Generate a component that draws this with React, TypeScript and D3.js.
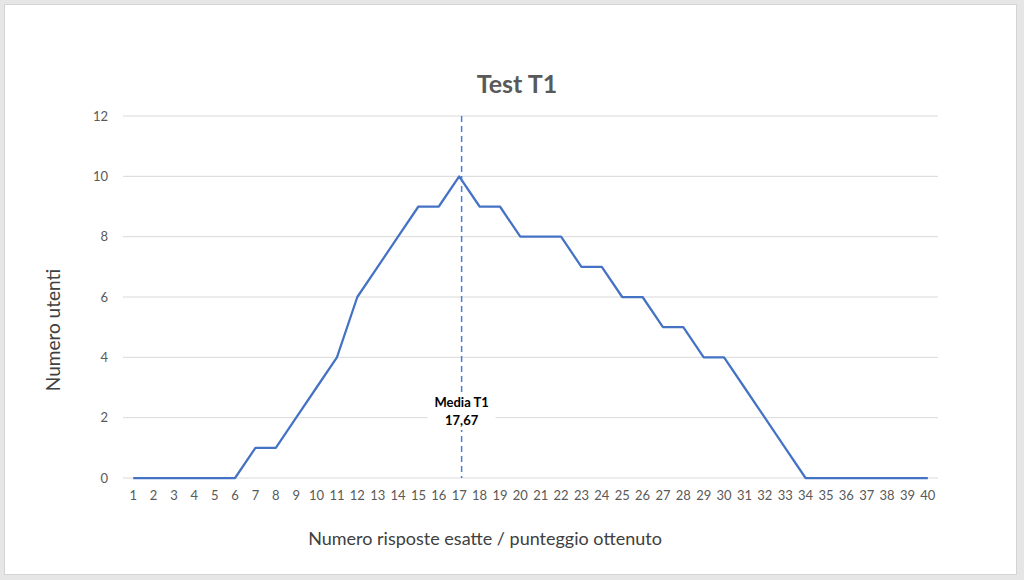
import React from "react";
import * as d3 from "d3";

const categories: number[] = Array.from({ length: 40 }, (_, i) => i + 1);
const users: number[] = [
  0, 0, 0, 0, 0, 0, 1, 1, 2, 3,
  4, 6, 7, 8, 9, 9, 10, 9, 9, 8,
  8, 8, 7, 7, 6, 6, 5, 5, 4, 4,
  3, 2, 1, 0, 0, 0, 0, 0, 0, 0,
];
const yTicks: number[] = [0, 2, 4, 6, 8, 10, 12];
const meanLabel: string[] = ["Media T1", "17,67"];
const meanLinePos = 17.12; // position on the category axis where the dashed line is drawn

const W = 1024;
const H = 580;
const margin = { left: 123, right: 86, top: 116, bottom: 102 };
const font = "Lato, 'Open Sans', sans-serif";

export default function App() {
  React.useEffect(() => {
    document.body.style.margin = "0";
  }, []);
  const x = d3
    .scaleBand<number>()
    .domain(categories)
    .range([margin.left, W - margin.right]);
  const xc = (v: number) => (x(v) as number) + x.bandwidth() / 2;
  const xLin = d3
    .scaleLinear()
    .domain([1, 40])
    .range([xc(1), xc(40)]);
  const y = d3.scaleLinear().domain([0, 12]).range([H - margin.bottom, margin.top]);
  const line = d3
    .line<number>()
    .x((_, i) => xc(categories[i]))
    .y((d) => y(d));
  const mx = xLin(meanLinePos);
  return (
    <svg width={W} height={H} style={{ display: "block", fontFamily: font }}>
      <rect x={0} y={0} width={W} height={H} fill="#e6e6e6" />
      <rect x={4.5} y={4.5} width={1012} height={570} fill="#ffffff" stroke="#d4d4d4" />
      <text x={517} y={93} textAnchor="middle" fontSize={25} fontWeight="bold" fill="#595959">
        Test T1
      </text>
      {yTicks.map((t) => (
        <g key={t}>
          <line x1={margin.left} x2={W - margin.right} y1={y(t)} y2={y(t)} stroke="#d9d9d9" strokeWidth={1} />
          <text x={108} y={y(t)} dy="0.35em" textAnchor="end" fontSize={13} fill="#595959">
            {t}
          </text>
        </g>
      ))}
      {categories.map((c) => (
        <text key={c} x={xc(c)} y={500} textAnchor="middle" fontSize={13} fill="#595959">
          {c}
        </text>
      ))}
      <path d={line(users) || ""} fill="none" stroke="#4472c4" strokeWidth={2.25} strokeLinejoin="round" />
      <line x1={mx} x2={mx} y1={margin.top} y2={y(0)} stroke="#4a7fd6" strokeWidth={1.5} strokeDasharray="6,4" />
      <rect x={mx - 34} y={392} width={68} height={38} fill="#ffffff" />
      <text x={mx} y={407} textAnchor="middle" fontSize={13} fontWeight="bold" fill="#000">
        {meanLabel[0]}
      </text>
      <text x={mx} y={425} textAnchor="middle" fontSize={13} fontWeight="bold" fill="#000">
        {meanLabel[1]}
      </text>
      <text x={485} y={545} textAnchor="middle" fontSize={18} fill="#404040">
        Numero risposte esatte / punteggio ottenuto
      </text>
      <text transform={`translate(60,${330}) rotate(-90)`} textAnchor="middle" fontSize={19} fill="#404040">
        Numero utenti
      </text>
    </svg>
  );
}
